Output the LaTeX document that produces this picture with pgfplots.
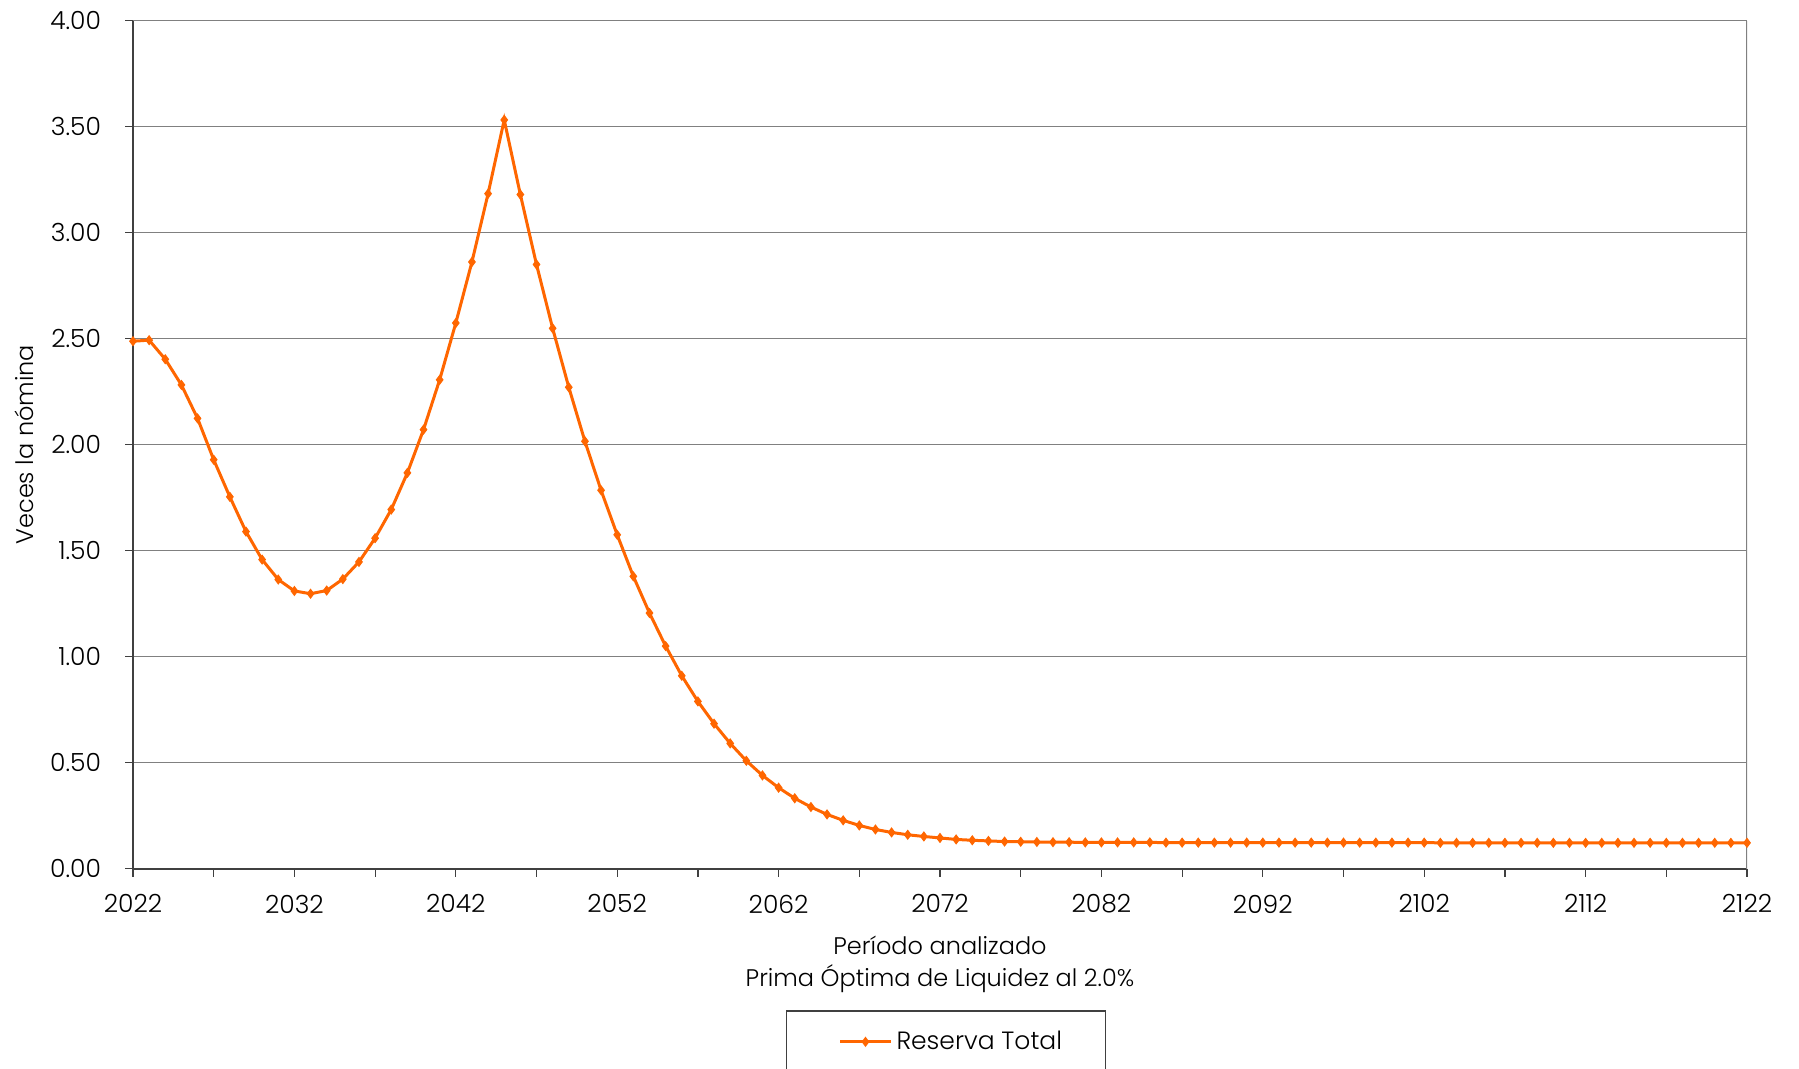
\documentclass[border=0pt]{standalone}
\usepackage{pgfplots}
\pgfplotsset{compat=1.18}
\usepackage{fontspec}
\setmainfont{Poppins}[UprightFont={* Light}]
\definecolor{serie}{HTML}{FF6600}
\definecolor{gridc}{HTML}{808080}
\definecolor{axc}{HTML}{404040}
\begin{document}
\begin{tikzpicture}
\useasboundingbox (0,0) rectangle (899.5pt,534.5pt);
\begin{axis}[
  at={(66.5pt,100.15pt)}, anchor=south west,
  scale only axis, width=807pt, height=424pt,
  xmin=2022, xmax=2122, ymin=0, ymax=4,
  font=\fontsize{12.5}{15}\selectfont,
  xtick={2022,2032,...,2122},
  minor xtick={2027,2037,...,2117},
  ytick={0,0.5,...,4},
  tick align=outside,
  major tick length=4pt, minor tick length=4pt,
  tick style={axc, line width=0.6pt},
  xticklabel style={/pgf/number format/1000 sep={}, yshift=-5.5pt},
  yticklabel style={/pgf/number format/.cd, fixed, fixed zerofill, precision=2, /tikz/.cd, xshift=-8.5pt},
  /pgf/number format/assume math mode=true,
  ymajorgrids, grid style={gridc, line width=0.75pt},
  axis x line*=bottom, axis y line*=left,
  axis line style={axc, line width=1pt, -},
  xlabel={Período analizado\\[0.6pt]Prima Óptima de Liquidez al 2.0\%},
  xlabel style={align=center, yshift=-4.6pt, font=\fontsize{12}{15}\selectfont},
  ylabel={Veces la nómina},
  ylabel style={yshift=1.5pt, font=\fontsize{12}{15}\selectfont},
  legend style={at={(0.5037,-0.1672)}, anchor=north, draw=axc, line width=0.6pt,
    inner xsep=19.7pt, inner ysep=8pt, font=\fontsize{12.5}{15}\selectfont},
  legend image code/.code={\path (0pt,0pt); \draw[#1, mark repeat=2, mark phase=2] plot coordinates {(6.3pt,0pt) (19.05pt,0pt) (31.8pt,0pt)};},
]
\draw[gridc, line width=0.75pt] (rel axis cs:1,0) -- (rel axis cs:1,1);
\addplot[serie, line width=1.5pt, mark=diamond*, mark size=2.2pt, mark options={fill=serie, line width=0.5pt}] coordinates {
(2022,2.488) (2023,2.493) (2024,2.403) (2025,2.282) (2026,2.124) (2027,1.929)
(2028,1.754) (2029,1.590) (2030,1.458) (2031,1.364) (2032,1.310) (2033,1.297)
(2034,1.312) (2035,1.366) (2036,1.447) (2037,1.559) (2038,1.694) (2039,1.867)
(2040,2.071) (2041,2.306) (2042,2.574) (2043,2.862) (2044,3.184) (2045,3.532)
(2046,3.180) (2047,2.850) (2048,2.549) (2049,2.271) (2050,2.016) (2051,1.785)
(2052,1.575) (2053,1.379) (2054,1.206) (2055,1.050) (2056,0.910) (2057,0.789)
(2058,0.684) (2059,0.591) (2060,0.509) (2061,0.440) (2062,0.382) (2063,0.332)
(2064,0.291) (2065,0.256) (2066,0.228) (2067,0.204) (2068,0.185) (2069,0.171)
(2070,0.160) (2071,0.152) (2072,0.145) (2073,0.138) (2074,0.134) (2075,0.131)
(2076,0.128) (2077,0.127) (2078,0.126) (2079,0.125) (2080,0.125) (2081,0.124)
(2082,0.124) (2083,0.124) (2084,0.124) (2085,0.124) (2086,0.123) (2087,0.123)
(2088,0.123) (2089,0.123) (2090,0.123) (2091,0.123) (2092,0.123) (2093,0.123)
(2094,0.123) (2095,0.123) (2096,0.123) (2097,0.123) (2098,0.123) (2099,0.123)
(2100,0.123) (2101,0.123) (2102,0.123) (2103,0.122) (2104,0.122) (2105,0.122)
(2106,0.122) (2107,0.122) (2108,0.122) (2109,0.122) (2110,0.122) (2111,0.122)
(2112,0.122) (2113,0.122) (2114,0.122) (2115,0.122) (2116,0.122) (2117,0.122)
(2118,0.122) (2119,0.122) (2120,0.122) (2121,0.122) (2122,0.122)
};
\addlegendentry{Reserva Total}
\end{axis}
\end{tikzpicture}
\end{document}
